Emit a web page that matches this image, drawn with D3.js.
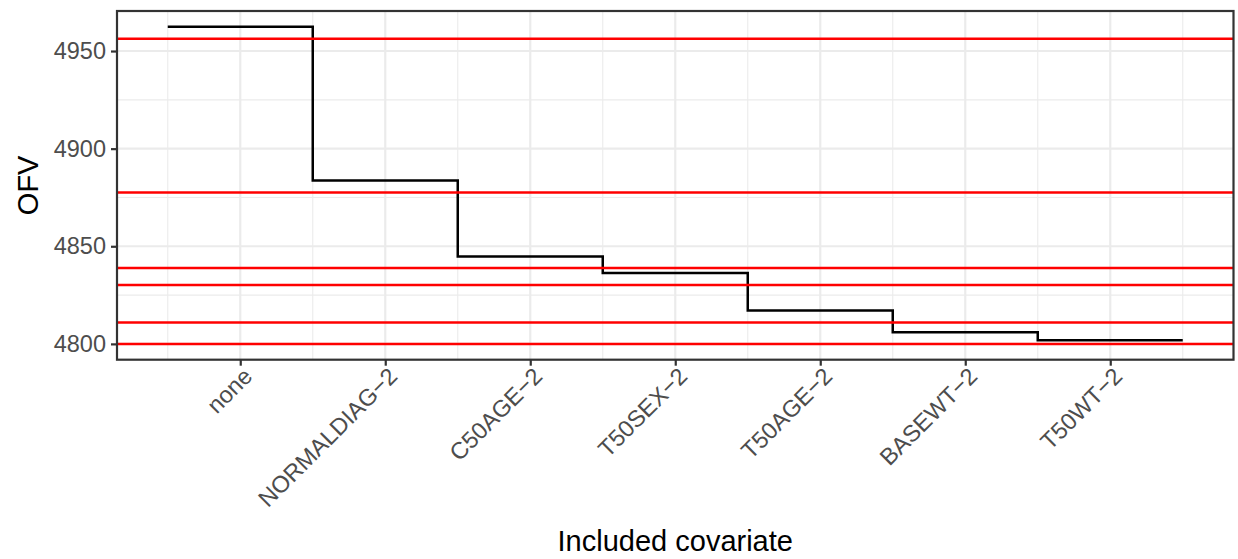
<!DOCTYPE html>
<html lang="en">
<head>
<meta charset="utf-8">
<title>OFV by included covariate</title>
<script src="https://cdn.jsdelivr.net/npm/d3@7"></script>
<style>
  html, body { margin: 0; padding: 0; background: white; }
  text { font-family: "Liberation Sans", Arial, sans-serif; }
</style>
</head>
<body>
<script>
// data
var covariates = ["none", "NORMALDIAG-2", "C50AGE-2", "T50SEX-2", "T50AGE-2", "BASEWT-2", "T50WT-2"];
var ofv = [4962.4, 4883.7, 4844.8, 4836.3, 4817.1, 4805.9, 4801.8];
var refLines = [4956.3, 4877.6, 4838.9, 4830.1, 4811.0, 4800.0];
var yTicks = [4800, 4850, 4900, 4950];
var yMinor = [4825, 4875, 4925];

var w = 1238, h = 559;
var padLeft = 117, padRight = 1233.5, padTop = 11, padBottom = 359.7;

var svg = d3.select("body").append("svg")
  .attr("width", w)
  .attr("height", h);

var x = d3.scaleLinear().domain([0.15, 7.85]).range([padLeft, padRight]);
var y = d3.scaleLinear().domain([4791.9, 4970.5]).range([padBottom, padTop]);

// grid
var grid = svg.append("g");
var xMinor = d3.range(covariates.length + 1).map(function(i) { return i + 0.5; });
grid.selectAll(".vminor").data(xMinor).enter().append("line")
  .attr("x1", function(d) { return x(d); }).attr("x2", function(d) { return x(d); })
  .attr("y1", padTop).attr("y2", padBottom)
  .attr("stroke", "#ebebeb").attr("stroke-width", 1.1);
grid.selectAll(".hminor").data(yMinor).enter().append("line")
  .attr("x1", padLeft).attr("x2", padRight)
  .attr("y1", function(d) { return y(d); }).attr("y2", function(d) { return y(d); })
  .attr("stroke", "#ebebeb").attr("stroke-width", 1.1);
grid.selectAll(".vmajor").data(covariates).enter().append("line")
  .attr("x1", function(d, i) { return x(i + 1); }).attr("x2", function(d, i) { return x(i + 1); })
  .attr("y1", padTop).attr("y2", padBottom)
  .attr("stroke", "#ebebeb").attr("stroke-width", 2.2);
grid.selectAll(".hmajor").data(yTicks).enter().append("line")
  .attr("x1", padLeft).attr("x2", padRight)
  .attr("y1", function(d) { return y(d); }).attr("y2", function(d) { return y(d); })
  .attr("stroke", "#ebebeb").attr("stroke-width", 2.2);

// step line, each covariate spans i+0.5 .. i+1.5
var stepPts = [];
ofv.forEach(function(v, i) {
  stepPts.push([i + 0.5, v]);
  stepPts.push([i + 1.5, v]);
});
svg.append("path")
  .datum(stepPts)
  .attr("fill", "none")
  .attr("stroke", "black")
  .attr("stroke-width", 2.5)
  .attr("d", d3.line().x(function(d) { return x(d[0]); }).y(function(d) { return y(d[1]); }));

// red reference lines
svg.selectAll(".ref").data(refLines).enter().append("line")
  .attr("x1", padLeft).attr("x2", padRight)
  .attr("y1", function(d) { return y(d); }).attr("y2", function(d) { return y(d); })
  .attr("stroke", "#ff0000").attr("stroke-width", 2.5);

// panel border
svg.append("rect")
  .attr("x", padLeft).attr("y", padTop)
  .attr("width", padRight - padLeft).attr("height", padBottom - padTop)
  .attr("fill", "none").attr("stroke", "#333333").attr("stroke-width", 2.2);

// y axis
var yAxis = svg.append("g").attr("transform", "translate(" + padLeft + ",0)")
  .call(d3.axisLeft(y).tickValues(yTicks).tickSize(6).tickPadding(5).tickFormat(d3.format("d")));
yAxis.select(".domain").remove();
yAxis.selectAll(".tick line").attr("stroke", "#333333").attr("stroke-width", 2.2);
yAxis.selectAll(".tick text").attr("fill", "#4d4d4d").style("font-size", "23.5px")
  .style("font-family", "'Liberation Sans', Arial, sans-serif");

// x axis
var xAxis = svg.append("g").attr("transform", "translate(0," + padBottom + ")")
  .call(d3.axisBottom(x).tickValues(d3.range(1, covariates.length + 1)).tickSize(6)
    .tickFormat(function(d) { return covariates[d - 1].replace("-", "\u2212"); }));
xAxis.select(".domain").remove();
xAxis.selectAll(".tick line").attr("stroke", "#333333").attr("stroke-width", 2.2);
xAxis.selectAll(".tick text")
  .attr("fill", "#4d4d4d")
  .style("font-size", "23.5px")
  .style("font-family", "'Liberation Sans', Arial, sans-serif")
  .attr("text-anchor", "end")
  .attr("y", 0)
  .attr("dy", "0.72em")
  .attr("transform", "translate(1,6) rotate(-45)");

// titles
svg.append("text")
  .attr("x", (padLeft + padRight) / 2)
  .attr("y", 551)
  .attr("text-anchor", "middle")
  .style("font-size", "29px")
  .text("Included covariate");

svg.append("text")
  .attr("transform", "translate(38," + ((padTop + padBottom) / 2) + ") rotate(-90)")
  .attr("text-anchor", "middle")
  .style("font-size", "29px")
  .text("OFV");
</script>
</body>
</html>
